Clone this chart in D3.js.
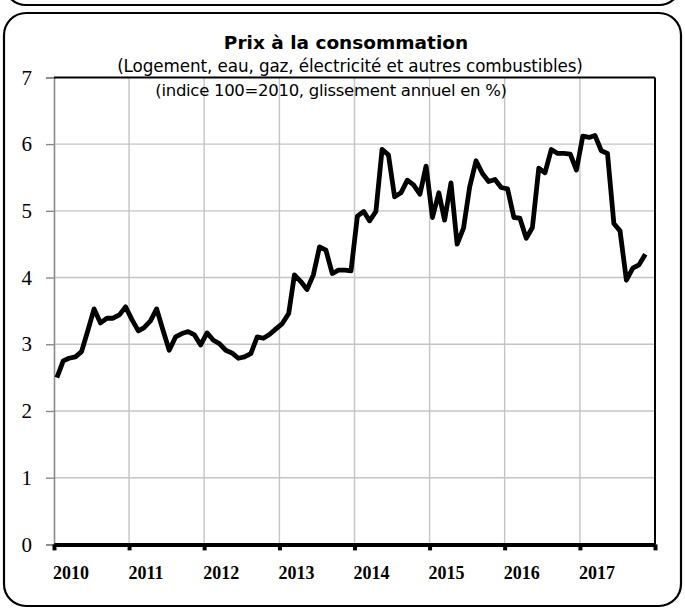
<!DOCTYPE html>
<html>
<head>
<meta charset="utf-8">
<script src="https://cdn.jsdelivr.net/npm/d3@7"></script>
<style>
  body { margin: 0; background: #fff; }
  svg { display: block; }
</style>
</head>
<body>
<svg id="chart" width="685" height="613"></svg>
<script>
// glissement annuel (%), mensuel de janvier 2010 à novembre 2017
const values2010 = [2.50, 2.75, 2.79, 2.81, 2.89, 3.21, 3.53, 3.32, 3.39, 3.39, 3.44, 3.56];
const values2011 = [3.37, 3.20, 3.25, 3.35, 3.53, 3.21, 2.91, 3.11, 3.16, 3.19, 3.14, 2.99];
const values2012 = [3.17, 3.06, 3.01, 2.91, 2.87, 2.79, 2.81, 2.86, 3.11, 3.09, 3.15, 3.23];
const values2013 = [3.31, 3.46, 4.04, 3.94, 3.82, 4.04, 4.46, 4.41, 4.06, 4.11, 4.11, 4.10];
const values2014 = [4.92, 4.99, 4.85, 4.99, 5.92, 5.84, 5.21, 5.27, 5.46, 5.39, 5.25, 5.67];
const values2015 = [4.90, 5.27, 4.86, 5.42, 4.50, 4.74, 5.36, 5.75, 5.56, 5.44, 5.47, 5.35];
const values2016 = [5.33, 4.90, 4.89, 4.59, 4.75, 5.64, 5.57, 5.92, 5.86, 5.86, 5.85, 5.61];
const values2017 = [6.12, 6.10, 6.13, 5.90, 5.86, 4.81, 4.70, 3.96, 4.14, 4.19, 4.35];

const years = ["2010", "2011", "2012", "2013", "2014", "2015", "2016", "2017"];
const yTicks = [0, 1, 2, 3, 4, 5, 6, 7];

const title = "Prix à la consommation";
const subtitle1 = "(Logement, eau, gaz, électricité et autres combustibles)";
const subtitle2 = "(indice 100=2010, glissement annuel en %)";

const allValues = [].concat(values2010, values2011, values2012, values2013,
                            values2014, values2015, values2016, values2017);
// un point par mois, placé au milieu du mois
const data = allValues.map((v, i) => ({ date: new Date(2010, i, 15), value: v }));

const svg = d3.select("#chart");

// cadres arrondis (bas du panneau précédent + panneau courant)
svg.append("rect")
  .attr("x", 4).attr("y", -600).attr("width", 677).attr("height", 605)
  .attr("rx", 22).attr("ry", 22)
  .attr("fill", "none").attr("stroke", "#000").attr("stroke-width", 2.2);

svg.append("rect")
  .attr("x", 4).attr("y", 13).attr("width", 677).attr("height", 593)
  .attr("rx", 22).attr("ry", 22)
  .attr("fill", "none").attr("stroke", "#000").attr("stroke-width", 2.2);

const plotLeft = 54, plotRight = 655, plotTop = 77.4, plotBottom = 544.4;

const x = d3.scaleTime()
  .domain([new Date(2010, 0, 1), new Date(2018, 0, 1)])
  .range([plotLeft, plotRight]);

const y = d3.scaleLinear()
  .domain([0, 7])
  .range([plotBottom, plotTop]);

const yearDates = years.map(yr => new Date(+yr, 0, 1)).concat([new Date(2018, 0, 1)]);

// grille verticale
svg.append("g")
  .selectAll("line")
  .data(yearDates.slice(1, -1))
  .enter()
  .append("line")
  .attr("x1", d => x(d)).attr("x2", d => x(d))
  .attr("y1", plotTop).attr("y2", plotBottom)
  .attr("stroke", "#c4c4c4").attr("stroke-width", 1.4);

// grille horizontale
svg.append("g")
  .selectAll("line")
  .data(yTicks.slice(1, -1))
  .enter()
  .append("line")
  .attr("x1", plotLeft).attr("x2", plotRight)
  .attr("y1", d => y(d)).attr("y2", d => y(d))
  .attr("stroke", "#c4c4c4").attr("stroke-width", 1.4);

// axe gauche (gris)
const yAxis = svg.append("g")
  .attr("transform", `translate(${plotLeft},0)`)
  .call(d3.axisLeft(y).tickValues(yTicks).tickSize(8).tickPadding(14).tickFormat(d3.format("d")));
yAxis.select(".domain").attr("stroke", "#8a8a8a").attr("stroke-width", 1.6);
yAxis.selectAll(".tick line").attr("stroke", "#8a8a8a").attr("stroke-width", 1.4);
yAxis.selectAll(".tick text")
  .attr("fill", "#000")
  .style("font-family", "'Liberation Serif', 'Times New Roman', serif")
  .style("font-size", "21px");

// bord haut et bord droit
svg.append("line")
  .attr("x1", plotLeft).attr("x2", plotRight).attr("y1", plotTop).attr("y2", plotTop)
  .attr("stroke", "#000").attr("stroke-width", 2);
svg.append("line")
  .attr("x1", plotRight).attr("x2", plotRight).attr("y1", plotTop).attr("y2", plotBottom)
  .attr("stroke", "#000").attr("stroke-width", 2);

// axe bas (noir épais)
const xAxis = svg.append("g")
  .attr("transform", `translate(0,${plotBottom})`)
  .call(d3.axisBottom(x).tickValues(yearDates).tickSize(6).tickSizeOuter(0).tickFormat(""));
xAxis.select(".domain").attr("stroke", "#000").attr("stroke-width", 4);
xAxis.selectAll(".tick line").attr("stroke", "#000").attr("stroke-width", 4);

// libellés des années, décalés à droite du trait
svg.append("g")
  .selectAll("text")
  .data(years)
  .enter()
  .append("text")
  .attr("x", d => x(new Date(+d, 0, 1)) + 17)
  .attr("y", 579)
  .attr("text-anchor", "middle")
  .style("font-family", "'Liberation Serif', 'Times New Roman', serif")
  .style("font-weight", "bold")
  .style("font-size", "18px")
  .text(d => d);

// courbe
const line = d3.line()
  .x(d => x(d.date))
  .y(d => y(d.value));

svg.append("path")
  .datum(data)
  .attr("d", line)
  .attr("fill", "none")
  .attr("stroke", "#000")
  .attr("stroke-width", 4.8)
  .attr("stroke-linejoin", "round")
  .attr("stroke-linecap", "butt");

// titres
const titles = svg.append("g").style("font-family", "'DejaVu Sans', sans-serif");
titles.append("text")
  .attr("x", 346).attr("y", 49)
  .attr("text-anchor", "middle")
  .style("font-weight", "bold").style("font-size", "18.5px")
  .text(title);
titles.append("text")
  .attr("x", 350).attr("y", 72)
  .attr("text-anchor", "middle")
  .style("font-size", "16.8px")
  .style("letter-spacing", "-0.1px")
  .text(subtitle1);
titles.append("text")
  .attr("x", 331).attr("y", 96)
  .attr("text-anchor", "middle")
  .style("font-size", "16.5px")
  .style("letter-spacing", "-0.3px")
  .text(subtitle2);
</script>
</body>
</html>
